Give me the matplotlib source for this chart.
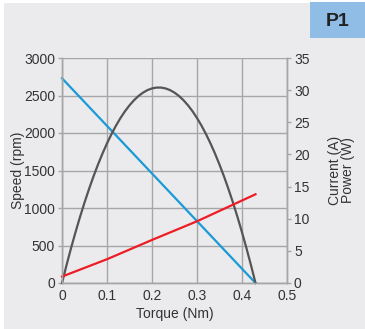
import matplotlib.pyplot as plt
from matplotlib.patches import Rectangle

plt.rcParams['font.family'] = ['Liberation Sans', 'DejaVu Sans']

# speed line (rpm, left axis)
speed_torque = [0, 0.43]
speed_rpm = [2730, 0]

# current (A, right axis)
current_torque = [0, 0.1, 0.2, 0.3, 0.43]
current_a = [1.0, 3.7, 6.7, 9.6, 13.8]

# power (W, right axis)
power_torque = [0, 0.01, 0.02, 0.03, 0.04, 0.05, 0.06, 0.07, 0.08, 0.09,
                0.10, 0.11, 0.12, 0.13, 0.14, 0.15, 0.16, 0.17, 0.18, 0.19,
                0.20, 0.21, 0.22, 0.23, 0.24, 0.25, 0.26, 0.27, 0.28, 0.29,
                0.30, 0.31, 0.32, 0.33, 0.34, 0.35, 0.36, 0.37, 0.38, 0.39,
                0.40, 0.41, 0.42, 0.43]
power_w = [0, 2.76, 5.40, 7.90, 10.27, 12.50, 14.61, 16.59, 18.43, 20.14,
           21.72, 23.17, 24.48, 25.67, 26.72, 27.64, 28.43, 29.09, 29.61, 30.01,
           30.27, 30.40, 30.40, 30.27, 30.01, 29.61, 29.09, 28.43, 27.64, 26.72,
           25.66, 24.48, 23.16, 21.71, 20.13, 18.42, 16.58, 14.60, 12.50, 10.26,
           7.89, 5.39, 2.76, 0]

x_ticks = [0, 0.1, 0.2, 0.3, 0.4, 0.5]
x_labels = ['0', '0.1', '0.2', '0.3', '0.4', '0.5']
left_ticks = [0, 500, 1000, 1500, 2000, 2500, 3000]
right_ticks = [0, 5, 10, 15, 20, 25, 30, 35]

txt = '#333333'
grid_c = '#a6a6a6'

fig = plt.figure(figsize=(3.65, 3.29), dpi=100)
fig.patch.set_facecolor('white')
fig.add_artist(Rectangle((4 / 365, 0), 361 / 365, 326 / 329, transform=fig.transFigure,
                         facecolor='#ebebed', edgecolor='none', zorder=-10))
fig.add_artist(Rectangle((310 / 365, 291 / 329), 55 / 365, 36 / 329, transform=fig.transFigure,
                         facecolor='#90bde6', edgecolor='none', zorder=-5))
fig.text(338 / 365, 308 / 329, 'P1', ha='center', va='center', fontsize=14,
         fontweight='bold', color='#222222')

ax1 = fig.add_axes([62 / 365, 46 / 329, 225 / 365, 225 / 329])
ax1.set_facecolor('none')
ax2 = ax1.twinx()

ax1.set_xlim(0, 0.5)
ax1.set_ylim(0, 3000)
ax2.set_ylim(0, 35)

ax1.set_xticks(x_ticks)
ax1.set_xticklabels(x_labels)
ax1.set_yticks(left_ticks)
ax2.set_yticks(right_ticks)
ax1.grid(True, color=grid_c, linewidth=1)
ax1.set_axisbelow(True)

for ax in (ax1, ax2):
    for s in ax.spines.values():
        s.set_color(grid_c)
        s.set_linewidth(1)
    ax.spines['top'].set_visible(False)
    ax.tick_params(labelsize=10, colors=txt, length=3, width=1, pad=2)
    ax.tick_params(axis='both', color=grid_c)
ax1.tick_params(axis='x', length=0, pad=4)

ax1.plot(speed_torque, speed_rpm, color='#1a9ad6', linewidth=1.6, clip_on=False)
ax2.plot(power_torque, power_w, color='#555555', linewidth=1.6, clip_on=False)
ax2.plot(current_torque, current_a, color='#ee1c25', linewidth=1.6, clip_on=False)

ax1.set_xlabel('Torque (Nm)', fontsize=10, color=txt, labelpad=3)
ax1.set_ylabel('Speed (rpm)', fontsize=10, color=txt, labelpad=-1)
ax2.set_ylabel('Current (A)\nPower (W)', fontsize=10, color=txt, labelpad=13,
               rotation=90, linespacing=0.95)

fig.savefig('out.png', dpi=100)
